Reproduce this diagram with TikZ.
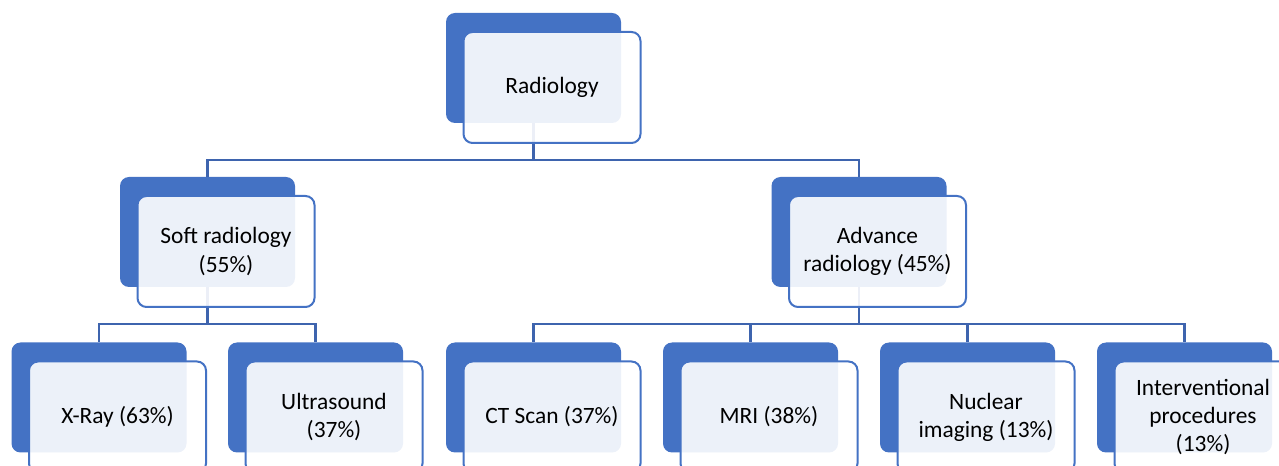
\documentclass[tikz,border=0pt]{standalone}
\usepackage{fontspec}
\setmainfont{Carlito}
\usetikzlibrary{backgrounds}
\definecolor{accent}{HTML}{4472C4}
\definecolor{linkblue}{HTML}{3E64AE}
\tikzset{
  backbox/.style={fill=accent,rounded corners=9bp,minimum width=175bp,minimum height=110bp,inner sep=0pt},
  frontbox/.style={draw=accent,line width=2bp,fill=white,fill opacity=0.9,text opacity=1,
    rounded corners=9bp,minimum width=177bp,minimum height=111bp,inner sep=0pt,align=center,
    font=\fontsize{23.5}{28.2}\selectfont},
  link/.style={draw=linkblue,line width=2.4bp},
}
\begin{document}
\begin{tikzpicture}[line join=round]
    \useasboundingbox (0,0) rectangle (1279bp,466bp);
    \clip (0,0) rectangle (1279bp,466bp);
    %% top
    \node (radB) at (533.5bp,398bp) [backbox] {};
    \node (rad) at (552bp,378.5bp) [frontbox] {Radiology};
    %% second row
    \node (softB) at (207.5bp,234bp) [backbox] {};
    \node (soft) at (226bp,214.5bp) [frontbox] {Soft radiology\\(55\%)};
    \node (advB) at (859bp,234bp) [backbox] {};
    \node (adv) at (877.5bp,214.5bp) [frontbox] {Advance\\radiology (45\%)};
    %% third row
    \node (xrayB) at (99bp,68.5bp) [backbox] {};
    \node (xray) at (117.5bp,49bp) [frontbox] {X-Ray (63\%)};
    \node (usB) at (315.5bp,68.5bp) [backbox] {};
    \node (us) at (334bp,49bp) [frontbox] {Ultrasound\\(37\%)};
    \node (ctB) at (533.5bp,68.5bp) [backbox] {};
    \node (ct) at (552bp,49bp) [frontbox] {CT Scan (37\%)};
    \node (mriB) at (750.5bp,68.5bp) [backbox] {};
    \node (mri) at (769bp,49bp) [frontbox] {MRI (38\%)};
    \node (nucB) at (967.5bp,68.5bp) [backbox] {};
    \node (nuc) at (986bp,49bp) [frontbox] {Nuclear\\imaging (13\%)};
    \node (ivpB) at (1184.5bp,68.5bp) [backbox] {};
    \node (ivp) at (1203bp,49bp) [frontbox] {Interventional\\procedures\\(13\%)};
    %% connectors
    \coordinate (bus0) at (0bp,306bp);
    \coordinate (bus1) at (0bp,142bp);
    \begin{scope}[on background layer]
    \foreach \c in {softB,advB}
      \draw [link] (radB.center) |- (bus0 -| \c.north) -- (\c.north);
    \foreach \c in {xrayB,usB}
      \draw [link] (softB.center) |- (bus1 -| \c.north) -- (\c.north);
    \foreach \c in {ctB,mriB,nucB,ivpB}
      \draw [link] (advB.center) |- (bus1 -| \c.north) -- (\c.north);
    \end{scope}
    %
\end{tikzpicture}
\end{document}
